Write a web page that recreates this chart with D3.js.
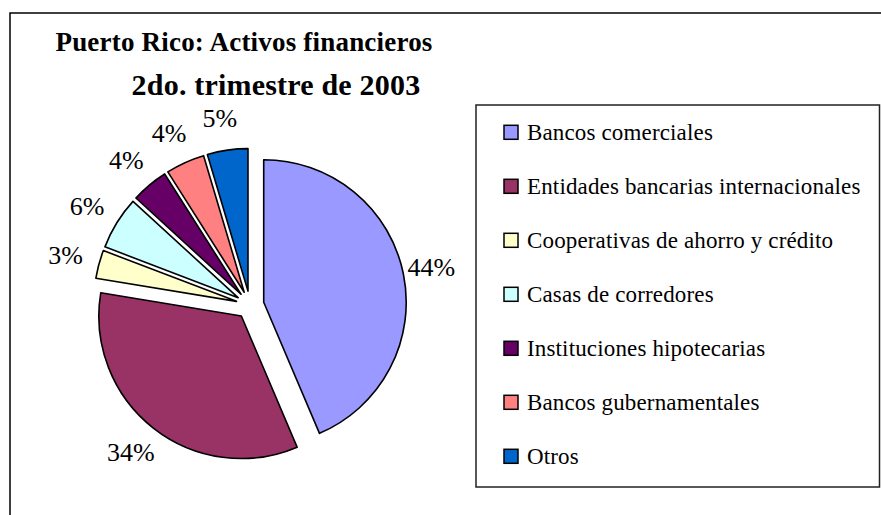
<!DOCTYPE html>
<html><head><meta charset="utf-8">
<script src="https://cdn.jsdelivr.net/npm/d3@7"></script>
<style>body{margin:0;background:#fff}svg{display:block}</style>
</head><body>
<svg id="c" width="881" height="515"></svg>
<script>
const categories = ["Bancos comerciales","Entidades bancarias internacionales","Cooperativas de ahorro y crédito","Casas de corredores","Instituciones hipotecarias","Bancos gubernamentales","Otros"];
const values = [43.6,34.0,3.2,6.0,4.2,4.4,4.6];
const colors = ["#9999FF","#993366","#FFFFCC","#CCFFFF","#660066","#FF8080","#0066CC"];
const titleLines = ["Puerto Rico: Activos financieros","2do. trimestre de 2003"];

const svg = d3.select("#c");
const font = "'Liberation Serif','Times New Roman',Times,serif";

svg.append("rect").attr("x",10).attr("y",13).attr("width",900).attr("height",520)
  .attr("fill","#fff").attr("stroke","#000").attr("stroke-width",1.5);

const title = svg.append("g").attr("font-family",font).attr("font-weight","bold")
  .attr("letter-spacing",0.2).attr("fill","#000");
title.append("text").attr("x",244).attr("y",51).attr("font-size",27).attr("text-anchor","middle").text(titleLines[0]);
title.append("text").attr("x",276).attr("y",95).attr("font-size",30).attr("text-anchor","middle").text(titleLines[1]);

const cx = 250, cy = 305, R = 142.5, explode = 14, labelR = 188;
const total = d3.sum(values);
const pie = d3.pie().sort(null).value(d=>d)(values);
const arc = d3.arc().innerRadius(0).outerRadius(R);
const g = svg.append("g").attr("transform",`translate(${cx},${cy})`);
const dir = d => { const a=(d.startAngle+d.endAngle)/2; return [Math.sin(a), -Math.cos(a)]; };
g.selectAll("path").data(pie).join("path")
  .attr("d",arc)
  .attr("transform",d=>{const v=dir(d);return `translate(${v[0]*explode},${v[1]*explode})`;})
  .attr("fill",(d,i)=>colors[i]).attr("stroke","#000").attr("stroke-width",1.6).attr("stroke-linejoin","round");
g.selectAll("text.lbl").data(pie).join("text").attr("class","lbl")
  .attr("x",d=>dir(d)[0]*labelR - 3).attr("y",d=>dir(d)[1]*labelR)
  .attr("text-anchor","middle").attr("dominant-baseline","central")
  .attr("font-family",font).attr("font-size",26).attr("fill","#000")
  .text(d=>Math.round(d.data/total*100)+"%");

// legend
const lg = svg.append("g");
lg.append("rect").attr("x",476).attr("y",105).attr("width",403.5).attr("height",382)
  .attr("fill","#fff").attr("stroke","#222").attr("stroke-width",1.5);
const ly = d3.scalePoint().domain(categories).range([132.3,456.3]);
const items = lg.selectAll("g.it").data(categories).join("g").attr("class","it")
  .attr("transform",d=>`translate(0,${ly(d)})`);
items.append("rect").attr("x",504).attr("y",-7).attr("width",14).attr("height",14)
  .attr("fill",(d,i)=>colors[i]).attr("stroke","#000").attr("stroke-width",1.5);
items.append("text").attr("x",527).attr("y",0).attr("dominant-baseline","central")
  .attr("font-family",font).attr("font-size",23).attr("letter-spacing",0.15).attr("fill","#000").text(d=>d);
</script>
</body></html>
